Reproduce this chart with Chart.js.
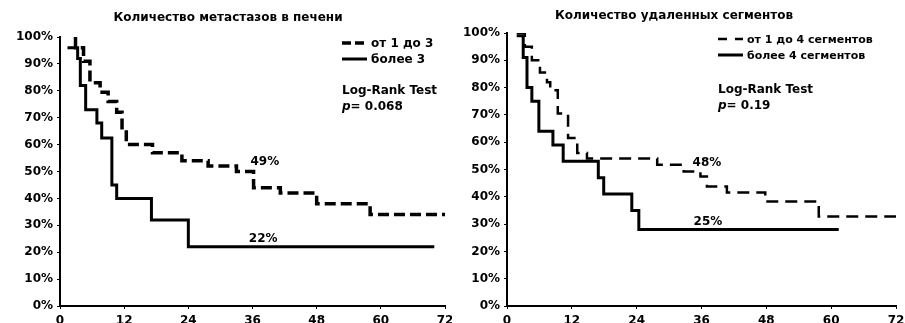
<!DOCTYPE html>
<html>
<head>
<meta charset="utf-8">
<script src="https://cdn.jsdelivr.net/npm/chart.js@4.4.1/dist/chart.umd.min.js"></script>
<style>
  html, body { margin: 0; padding: 0; background: #fff; }
  #wrap { position: relative; width: 905px; height: 323px; overflow: hidden; }
  canvas { position: absolute; top: 0; }
</style>
</head>
<body>
<div id="wrap">
  <canvas id="left" width="452" height="323" style="left:0"></canvas>
  <canvas id="right" width="453" height="323" style="left:452px"></canvas>
</div>
<script>
// months / survival %, one point per step (value after the drop)
const metFewMonths = [2.9, 2.9, 4.4, 5.6, 7.5, 9.0, 10.6, 11.6, 12.4, 17.3, 22.8, 27.7, 33.0, 36.2, 41.2, 48.0, 58.0, 72.0];
const metFewSurv   = [100, 96, 91, 83, 79.5, 76, 72, 65.5, 60, 57, 54, 52, 50, 44, 42, 38, 34, 34];
const metManyMonths = [1.4, 3.3, 3.8, 4.8, 6.9, 7.8, 9.7, 10.6, 17.1, 24.0, 70.0];
const metManySurv   = [96, 92, 82, 73, 68, 62.5, 45, 40, 32, 22, 22];

const segFewMonths = [1.8, 3.3, 4.6, 6.1, 7.4, 8.0, 9.4, 11.3, 13.0, 14.8, 27.8, 32.7, 35.8, 37.0, 40.7, 47.8, 57.7, 72.0];
const segFewSurv   = [100, 95, 90, 85.5, 82, 79, 70.5, 61.5, 56, 54, 51.7, 49.3, 47.4, 43.8, 41.6, 38.3, 32.8, 32.8];
const segManyMonths = [1.8, 3.0, 3.7, 4.6, 5.9, 8.5, 10.4, 16.9, 17.9, 23.1, 24.4, 61.4];
const segManySurv   = [99, 91, 80, 75, 64, 59, 53, 47, 41, 35, 28, 28];

const monthTicks = [0, 12, 24, 36, 48, 60, 72];
const percentTicks = [0, 10, 20, 30, 40, 50, 60, 70, 80, 90, 100];

const leftTitle = 'Количество метастазов в печени';
const rightTitle = 'Количество удаленных сегментов';
const leftLabels = ['от 1 до 3', 'более 3'];
const rightLabels = ['от 1 до 4 сегментов', 'более 4 сегментов'];
const leftP = '= 0.068';
const rightP = '= 0.19';
// labels written on the curves: [month, percent, text]
const leftMarks = [[38.3, 53.5, '49%'], [38.0, 24.9, '22%']];
const rightMarks = [[37.0, 52.4, '48%'], [37.2, 30.8, '25%']];

Chart.defaults.font.family = '"DejaVu Sans", Verdana, sans-serif';
Chart.defaults.font.weight = 'bold';
Chart.defaults.font.size = 12;
Chart.defaults.color = '#000';

const toPoints = (xs, ys) => xs.map((x, i) => ({ x: x, y: ys[i] }));

const overlay = {
  id: 'overlay',
  afterDraw(chart, args, o) {
    const ctx = chart.ctx;
    const xs = chart.scales.x, ys = chart.scales.y;
    ctx.save();
    ctx.fillStyle = '#000';
    ctx.strokeStyle = '#000';
    ctx.textBaseline = 'middle';

    ctx.font = 'bold 12px "DejaVu Sans"';
    ctx.textAlign = 'center';
    ctx.fillText(o.title, o.titleX, o.titleY);

    // legend
    ctx.textAlign = 'left';
    ctx.font = 'bold ' + o.legendSize + 'px "DejaVu Sans"';
    o.legend.forEach((item, i) => {
      const y = o.legendY[i];
      ctx.lineWidth = item.width;
      ctx.setLineDash(item.dash);
      ctx.beginPath();
      ctx.moveTo(o.sampleX, y);
      ctx.lineTo(o.sampleX + 25, y);
      ctx.stroke();
      ctx.setLineDash([]);
      ctx.fillText(item.text, o.sampleX + 29, y + 1);
    });

    ctx.font = 'bold 12px "DejaVu Sans"';
    ctx.fillText('Log-Rank Test', o.testX, o.testY);
    ctx.font = 'italic bold 12px "DejaVu Sans"';
    ctx.fillText('p', o.testX, o.testY + 16);
    const pw = ctx.measureText('p').width;
    ctx.font = 'bold 12px "DejaVu Sans"';
    ctx.fillText(o.pText, o.testX + pw, o.testY + 16);

    ctx.textAlign = 'center';
    ctx.font = 'bold 12px "DejaVu Sans"';
    o.marks.forEach(m => {
      ctx.fillText(m[2], xs.getPixelForValue(m[0]), ys.getPixelForValue(m[1]));
    });
    ctx.restore();
  }
};

function makeChart(id, cfg) {
  return new Chart(document.getElementById(id), {
    type: 'line',
    data: {
      datasets: [
        {
          data: toPoints(cfg.fewX, cfg.fewY),
          borderColor: '#000', borderWidth: cfg.dashWidth, borderDash: cfg.dash,
          stepped: true, pointRadius: 0, fill: false
        },
        {
          data: toPoints(cfg.manyX, cfg.manyY),
          borderColor: '#000', borderWidth: 3,
          stepped: true, pointRadius: 0, fill: false
        }
      ]
    },
    options: {
      responsive: false,
      animation: false,
      layout: { padding: { left: 0, right: cfg.padRight, top: cfg.padTop, bottom: 0 } },
      scales: {
        x: {
          type: 'linear', min: 0, max: 72,
          afterBuildTicks: s => { s.ticks = monthTicks.map(v => ({ value: v })); },
          afterFit: s => { s.height = 17; s.paddingLeft = 0; s.paddingRight = 0; },
          ticks: { padding: 5, maxRotation: 0, autoSkip: false, font: { size: 12, weight: 'bold' } },
          grid: { drawOnChartArea: false, tickLength: 3, color: '#000' },
          border: { color: '#000', width: 2 }
        },
        y: {
          type: 'linear', min: 0, max: 100,
          afterBuildTicks: s => { s.ticks = percentTicks.map(v => ({ value: v })); },
          afterFit: s => { s.width = cfg.yWidth; s.paddingTop = 0; s.paddingBottom = 0; },
          ticks: { padding: 4, autoSkip: false, callback: v => v + '%', font: { size: 12, weight: 'bold' } },
          grid: { drawOnChartArea: false, tickLength: 3, color: '#000' },
          border: { color: '#000', width: 2 }
        }
      },
      plugins: {
        legend: { display: false },
        tooltip: { enabled: false },
        overlay: cfg.overlay
      }
    },
    plugins: [overlay]
  });
}

makeChart('left', {
  fewX: metFewMonths, fewY: metFewSurv, manyX: metManyMonths, manyY: metManySurv,
  dash: [11, 5], dashWidth: 3.5, padRight: 7, padTop: 37, yWidth: 60,
  overlay: {
    title: leftTitle, titleX: 228, titleY: 18,
    legendSize: 12, sampleX: 342, legendY: [43, 59],
    legend: [
      { text: leftLabels[0], dash: [9, 4], width: 3.5 },
      { text: leftLabels[1], dash: [], width: 3 }
    ],
    testX: 342, testY: 91, pText: leftP, marks: leftMarks
  }
});

makeChart('right', {
  fewX: segFewMonths, fewY: segFewSurv, manyX: segManyMonths, manyY: segManySurv,
  dash: [12, 7], dashWidth: 2.5, padRight: 9, padTop: 33, yWidth: 55,
  overlay: {
    title: rightTitle, titleX: 222, titleY: 16,
    legendSize: 11, sampleX: 266, legendY: [39, 55],
    legend: [
      { text: rightLabels[0], dash: [9, 8], width: 2.5 },
      { text: rightLabels[1], dash: [], width: 3 }
    ],
    testX: 266, testY: 90, pText: rightP, marks: rightMarks
  }
});
</script>
</body>
</html>
